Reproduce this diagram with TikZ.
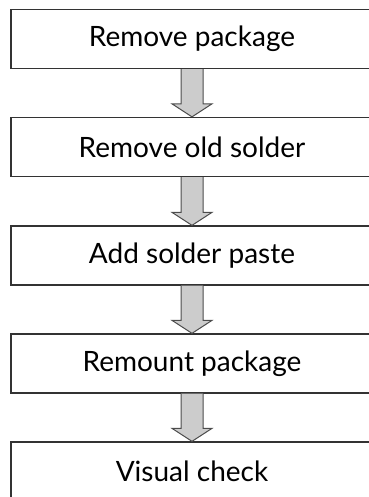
\documentclass[tikz,border=0pt]{standalone}
\usepackage{fontspec}
\setmainfont{Lato}

\tikzset{
  stepbox/.style={draw=black!80,line width=1.3pt,shape=rectangle,
    minimum width=362pt,minimum height=59pt,inner sep=0pt,font=\fontsize{28}{32}\selectfont},
  fatarrow/.style={draw=black!70,line width=1pt,fill=black!20,line join=miter}
}

% thick block arrow from the bottom of #1 to the top of #2
\newcommand{\fatarrow}[2]{%
  \draw[fatarrow] ([xshift=-11pt]#1.south) -- ([xshift=-11pt,yshift=13pt]#2.north)
    -- ([xshift=-20pt,yshift=13pt]#2.north) -- (#2.north)
    -- ([xshift=20pt,yshift=13pt]#2.north) -- ([xshift=11pt,yshift=13pt]#2.north)
    -- ([xshift=11pt]#1.south);}

\begin{document}
\begin{tikzpicture}[x=1pt,y=1pt]
\useasboundingbox (0,0) rectangle (368,-497);

\node (remove) [stepbox] at (192,-39) {Remove package};
\node (clean) [stepbox] at (192,-147) {Remove old solder};
\node (paste) [stepbox] at (192,-255.5) {Add solder paste};
\node (remount) [stepbox] at (192,-363.5) {Remount package};
\node (check) [stepbox] at (192,-471.5) {Visual check};

\fatarrow{remove}{clean}
\fatarrow{clean}{paste}
\fatarrow{paste}{remount}
\fatarrow{remount}{check}

\end{tikzpicture}
\end{document}
